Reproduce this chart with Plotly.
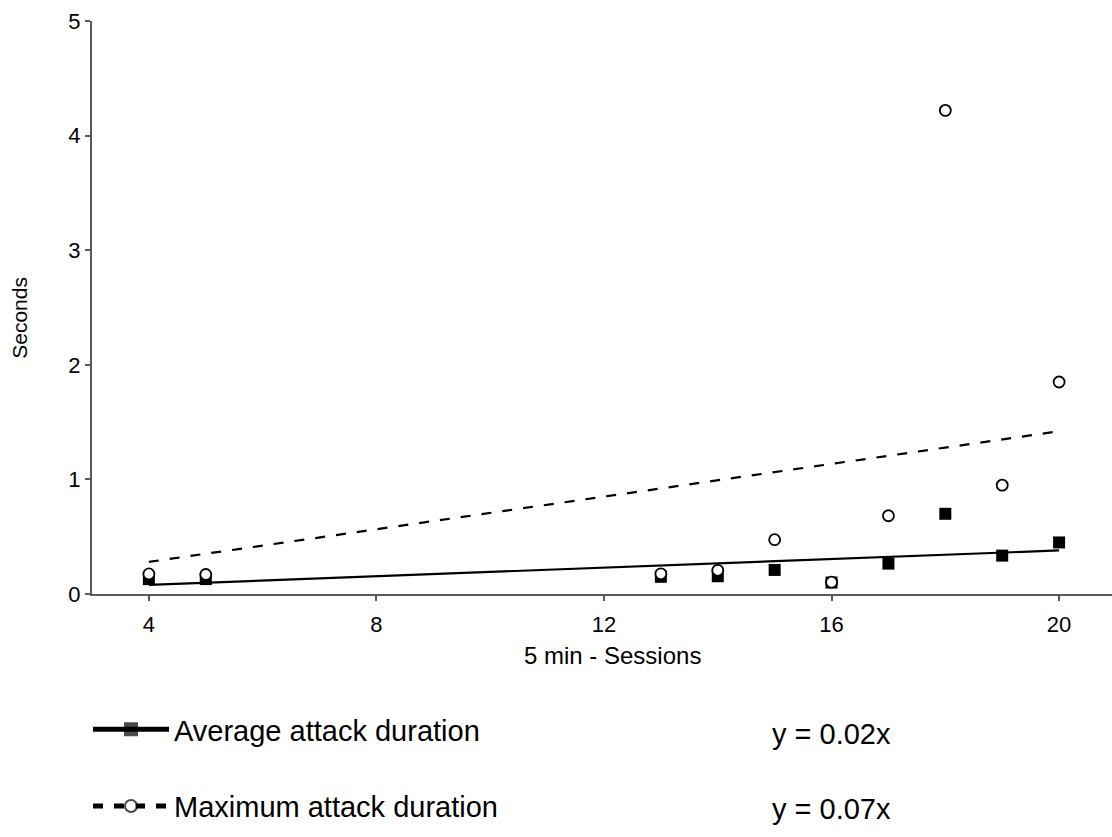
import plotly.graph_objects as go

# ---- data ----
sessions = [4, 5, 13, 14, 15, 16, 17, 18, 19, 20]
avg_duration = [0.13, 0.13, 0.15, 0.155, 0.21, 0.10, 0.265, 0.70, 0.335, 0.45]
max_duration = [0.175, 0.17, 0.176, 0.207, 0.474, 0.103, 0.683, 4.22, 0.95, 1.85]

trend_x = [4, 20]
avg_trend = [0.08, 0.38]      # y = 0.02x
max_trend = [0.28, 1.42]      # y = 0.07x

avg_label = "Average attack duration"
max_label = "Maximum attack duration"
avg_eq = "y = 0.02x"
max_eq = "y = 0.07x"
x_title = "5 min - Sessions"
y_title = "Seconds"

x_ticks = [4, 8, 12, 16, 20]
y_ticks = [0, 1, 2, 3, 4, 5]

FONT = "Liberation Sans, Arial, sans-serif"
AXIS_COL = "#5a5a5a"
LEG_SIZE = 29

fig = go.Figure()

# trend lines (also used as legend entries)
fig.add_trace(go.Scatter(
    x=trend_x, y=avg_trend, mode="lines+markers", name=avg_label,
    legendgroup="a",
    line=dict(color="black", width=2.2),
    marker=dict(symbol="square", color="black", size=[0.01, 0.01],
                line=dict(width=[0.01, 0.01], color="black")),
    hoverinfo="skip"))
fig.add_trace(go.Scatter(
    x=trend_x, y=max_trend, mode="lines+markers", name=max_label,
    legendgroup="b",
    line=dict(color="black", width=2.2, dash="10px,11px"),
    marker=dict(symbol="circle", color="white", size=[0.01, 0.01],
                line=dict(width=[0.01, 0.01], color="black")),
    hoverinfo="skip"))

# data points
fig.add_trace(go.Scatter(
    x=sessions, y=avg_duration, mode="markers", showlegend=False,
    marker=dict(symbol="square", color="black", size=12,
                line=dict(width=0))))
fig.add_trace(go.Scatter(
    x=sessions, y=max_duration, mode="markers", showlegend=False,
    marker=dict(symbol="circle", color="white", size=11,
                line=dict(width=1.8, color="black"))))

fig.update_layout(
    width=1112, height=837,
    margin=dict(l=92, r=0, t=21, b=242.5, pad=0, autoexpand=False),
    paper_bgcolor="white", plot_bgcolor="white",
    font=dict(family=FONT, color="black", size=16),
    showlegend=True,
    legend=dict(
        xref="container", yref="container",
        x=88 / 1112, y=1 - 704 / 837, xanchor="left", yanchor="top",
        font=dict(family=FONT, size=LEG_SIZE, color="black"),
        itemwidth=76, itemsizing="constant",
        tracegroupgap=36, bgcolor="rgba(0,0,0,0)",
    ),
    xaxis=dict(
        range=[3, 20.93], tickvals=x_ticks, ticktext=[str(v) for v in x_ticks],
        showgrid=False, zeroline=False,
        showline=True, linecolor=AXIS_COL, linewidth=2,
        ticks="outside", ticklen=5, tickcolor=AXIS_COL, tickwidth=1.5,
        ticklabelstandoff=5,
        tickfont=dict(family=FONT, size=22, color="black"),
    ),
    yaxis=dict(
        range=[0, 5], tickvals=y_ticks, ticktext=[str(v) for v in y_ticks],
        showgrid=False, zeroline=False,
        showline=True, linecolor=AXIS_COL, linewidth=2,
        ticks="outside", ticklen=5, tickcolor=AXIS_COL, tickwidth=1.5,
        tickfont=dict(family=FONT, size=22, color="black"),
    ),
    annotations=[
        dict(text=x_title, xref="paper", yref="paper",
             x=(612 - 92) / 1020, y=(594.5 - 656) / 573.5,
             xanchor="center", yanchor="middle", showarrow=False,
             font=dict(family=FONT, size=24, color="black")),
        dict(text=y_title, xref="paper", yref="paper", textangle=-90,
             x=(20 - 92) / 1020, y=(594.5 - 318) / 573.5,
             xanchor="center", yanchor="middle", showarrow=False,
             font=dict(family=FONT, size=21, color="black")),
        dict(text=avg_eq, xref="paper", yref="paper",
             x=(770 - 92) / 1020, y=(594.5 - 735) / 573.5,
             xanchor="left", yanchor="middle", showarrow=False,
             font=dict(family=FONT, size=LEG_SIZE, color="black")),
        dict(text=max_eq, xref="paper", yref="paper",
             x=(770 - 92) / 1020, y=(594.5 - 810) / 573.5,
             xanchor="left", yanchor="middle", showarrow=False,
             font=dict(family=FONT, size=LEG_SIZE, color="black")),
    ],
)

fig.write_html("out.html")
